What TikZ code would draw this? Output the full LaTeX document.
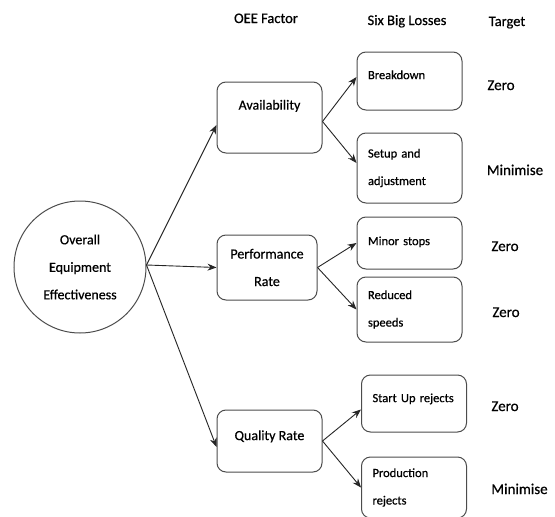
\documentclass[tikz,border=0pt]{standalone}
\usepackage{fontspec}
\setmainfont{Carlito}[FakeBold=0.6]
\usetikzlibrary{arrows.meta,positioning}

\begin{document}
\begin{tikzpicture}[x=1pt,y=-1pt]

    \tikzstyle{factor}=[draw=black!70,line width=1pt,rounded corners=9pt,minimum width=105pt,align=center,font=\fontsize{14}{27.5}\selectfont]
    \tikzstyle{loss}=[draw=black!70,line width=1pt,rounded corners=9pt,text width=83pt,inner xsep=11pt,align=left,font=\fontsize{12.5}{27.5}\selectfont]
    \tikzstyle{lift}=[text height=9pt,text depth=#1]
    \tikzstyle{target}=[anchor=base,font=\fontsize{15}{18}\selectfont]
    \tikzstyle{head}=[anchor=base,font=\fontsize{14.5}{18}\selectfont]
    \tikzstyle{link}=[line width=0.9pt,draw=black!85,-{Stealth[length=9pt,width=7pt]}]

\useasboundingbox (0,0) rectangle (555,517);

% column headings
\node (H_factor) [head] at (266,23) {OEE Factor};
\node (H_loss) [head] at (407,25) {Six Big Losses};
\node (H_target) [head] at (507,26) {Target};

\node (OEE) [circle,draw=black!70,line width=1pt,minimum size=132pt,align=center,font=\fontsize{14}{27.5}\selectfont] at (80,267) {Overall\\Equipment\\Effectiveness};

% OEE factors
\node (avail) [factor,minimum height=71pt,lift=24.8pt] at (269.5,117.5) {Availability};
\node (perf) [factor,minimum width=100pt,minimum height=65pt] at (267,267.5) {Performance\\Rate};
\node (qual) [factor,minimum height=62pt,lift=10.8pt] at (269.5,441) {Quality Rate};

% six big losses
\node (brk) [loss,minimum height=58pt,lift=12.75pt] at (409.5,81) {Breakdown};
\node (setup) [loss,minimum height=70pt] at (409.5,168) {Setup and\\adjustment};
\node (minor) [loss,minimum height=52pt,lift=4.75pt] at (409.5,243) {Minor stops};
\node (reduced) [loss,minimum height=65pt] at (409.5,309.5) {Reduced\\speeds};
\node (startup) [loss,minimum height=57pt,lift=11.75pt] at (414,403.5) {Start Up rejects};
\node (prod) [loss,minimum height=61pt] at (414,487.5) {Production\\rejects};

% targets
\node (T_brk) [target] at (501,90) {Zero};
\node (T_setup) [target] at (515,175) {Minimise};
\node (T_minor) [target] at (505,251) {Zero};
\node (T_reduced) [target] at (506,317) {Zero};
\node (T_startup) [target] at (505,411) {Zero};
\node (T_prod) [target] at (519.5,494) {Minimise};

\draw[link] ([yshift=2pt]OEE.east) -- ([yshift=-7.5pt]avail.west);
\draw[link] ([yshift=2pt]OEE.east) -- (perf.west);
\draw[link] ([yshift=2pt]OEE.east) -- ([yshift=-6pt]qual.west);

\draw[link] ([yshift=-4pt]avail.east) -- ([yshift=4pt]brk.west);
\draw[link] ([yshift=-4pt]avail.east) -- ([yshift=5pt]setup.west);
\draw[link] (perf.east) -- (minor.west);
\draw[link] (perf.east) -- (reduced.west);
\draw[link] (qual.east) -- ([yshift=-6pt]startup.west);
\draw[link] (qual.east) -- (prod.west);

\end{tikzpicture}
\end{document}
